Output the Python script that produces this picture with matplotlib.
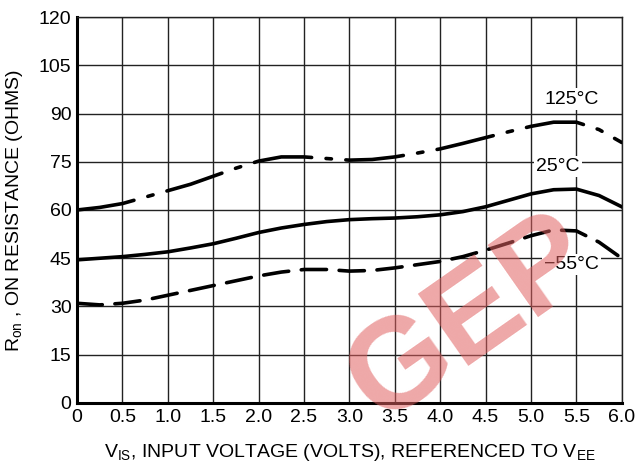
import numpy as np
import matplotlib.pyplot as plt

plt.rcParams['font.family'] = ['Liberation Sans', 'DejaVu Sans']

# input voltage (V)
v_is = [0.0, 0.25, 0.5, 0.75, 1.0, 1.25, 1.5, 1.75, 2.0, 2.25, 2.5, 2.75, 3.0,
        3.25, 3.5, 3.75, 4.0, 4.25, 4.5, 4.75, 5.0, 5.25, 5.5, 5.75, 6.0]
r_125 = [60.0, 60.8, 62.0, 64.0, 66.0, 68.0, 70.5, 73.0, 75.2, 76.5, 76.5, 76.0, 75.5,
         75.7, 76.5, 77.7, 79.0, 80.7, 82.5, 84.3, 86.0, 87.3, 87.3, 85.0, 81.0]
r_25 = [44.5, 45.0, 45.5, 46.2, 47.0, 48.2, 49.5, 51.2, 53.0, 54.4, 55.5, 56.4, 57.0,
        57.3, 57.5, 57.9, 58.5, 59.5, 61.0, 63.0, 65.0, 66.3, 66.5, 64.5, 61.0]
r_m55 = [31.0, 30.5, 31.0, 32.0, 33.5, 35.0, 36.5, 38.0, 39.5, 40.7, 41.5, 41.5, 41.0,
         41.2, 42.0, 43.0, 44.0, 45.5, 47.5, 49.7, 52.0, 53.8, 53.5, 50.0, 45.0]

labels = ['125°C', '25°C', '\u221255°C']
label_pos = [(5.45, 94.5), (5.3, 73.5), (5.45, 43.0)]

fig = plt.figure(figsize=(6.37, 4.70), dpi=100)
ax = fig.add_axes([0.121, 0.1426, 0.855, 0.8212])

ax.plot(v_is, r_125, color='black', lw=2.6, dashes=[16, 4, 1.5, 4], dash_capstyle='round',
        zorder=3)
ax.plot(v_is, r_25, color='black', lw=2.6, zorder=3)
ax.plot(v_is, r_m55, color='black', lw=2.6, dashes=[7, 3.5], dash_capstyle='round', zorder=3)

for lab, (x, y) in zip(labels, label_pos):
    ax.text(x, y, lab, fontsize=14, ha='center', va='center', zorder=4,
            bbox=dict(facecolor='white', edgecolor='none', pad=1.5))

ax.set_xlim(0, 6.0)
ax.set_ylim(0, 120)
ax.set_xticks(np.arange(0, 6.01, 0.5))
ax.set_xticklabels(['0', '0.5', '1.0', '1.5', '2.0', '2.5', '3.0', '3.5', '4.0',
                    '4.5', '5.0', '5.5', '6.0'])
ax.set_yticks(np.arange(0, 121, 15))
ax.grid(True, color='#222222', lw=1.0)
ax.tick_params(length=0, labelsize=14, pad=4)
ax.spines['left'].set_linewidth(2.2)
ax.spines['bottom'].set_linewidth(2.2)
for s in ['top', 'right']:
    ax.spines[s].set_linewidth(1.0)
    ax.spines[s].set_color('#222222')

ax.set_xlabel('V$_{\\mathregular{IS}}$, INPUT VOLTAGE (VOLTS), REFERENCED TO V$_{\\mathregular{EE}}$',
              fontsize=14, labelpad=12)
ax.set_ylabel('R$_{\\mathregular{on}}$ , ON RESISTANCE (OHMS)', fontsize=14, labelpad=10)

# watermark
fig.text(0.74, 0.32, 'GEP', fontsize=92, fontweight='bold', color='#e06060', alpha=0.55,
         rotation=35, ha='center', va='center', zorder=10)

fig.savefig('out.png', dpi=100)
